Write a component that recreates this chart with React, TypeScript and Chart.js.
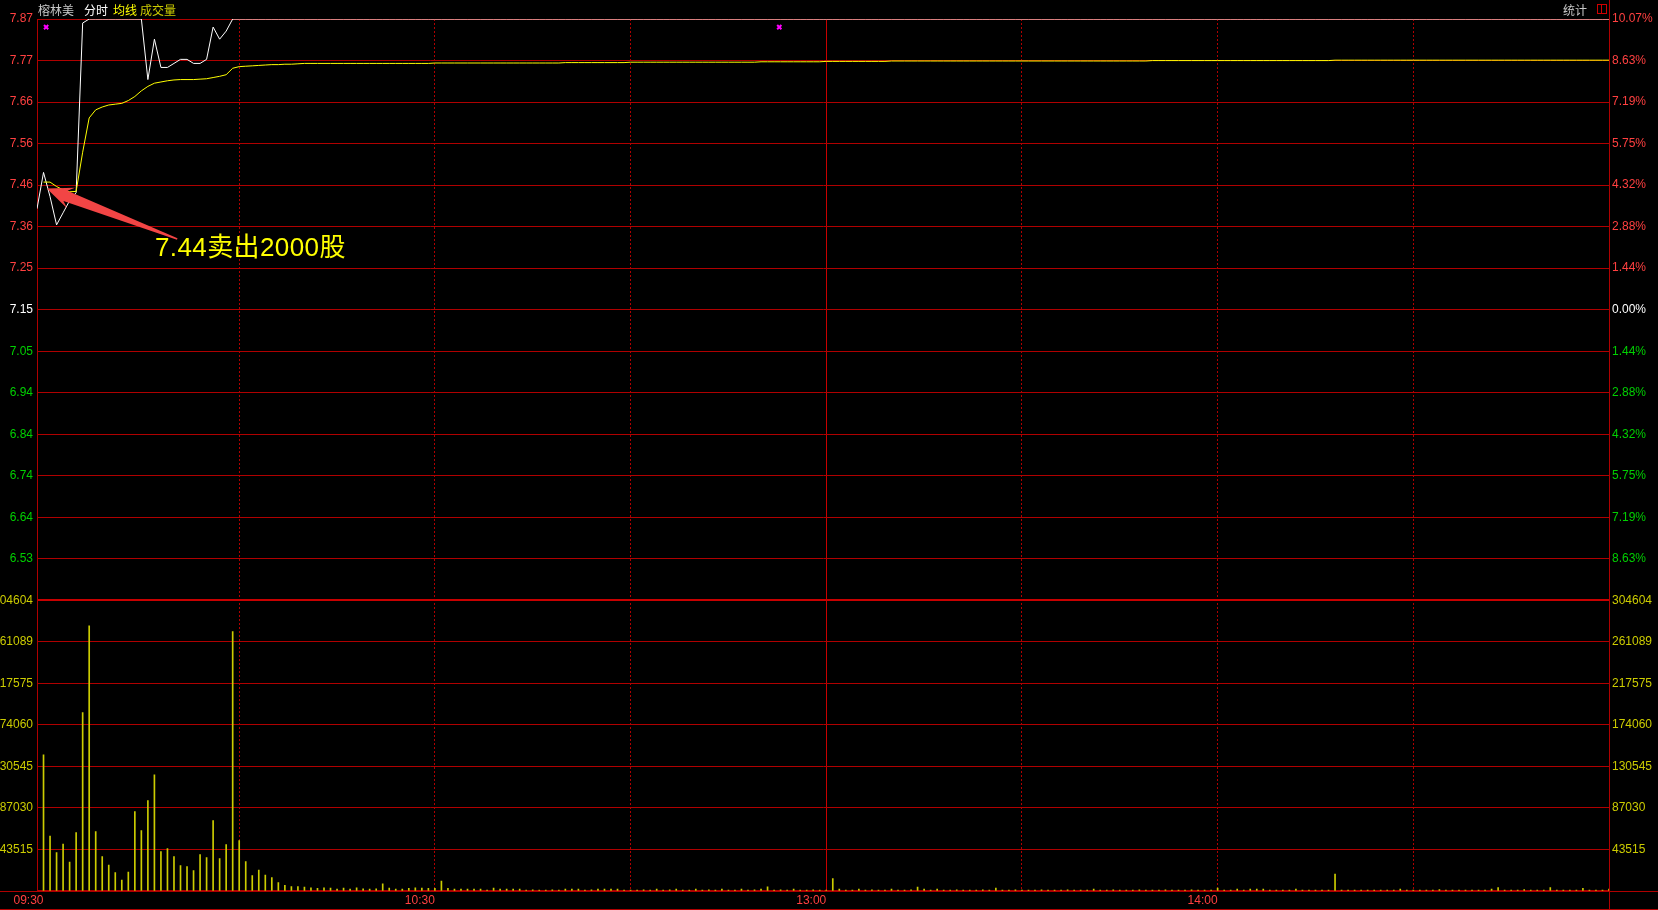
import React, { useEffect, useRef } from 'react';
import { Chart, registerables } from 'chart.js';

Chart.register(...registerables);

// ---------------- data ----------------
const stockName = '榕林美';
const prevClose = 7.15;
const limitRange = 0.72;
const volMax = 304604;

const priceTickLabels = ['7.87', '7.77', '7.66', '7.56', '7.46', '7.36', '7.25', '7.15', '7.05', '6.94', '6.84', '6.74', '6.64', '6.53', ''];
const pctTickLabels = ['10.07%', '8.63%', '7.19%', '5.75%', '4.32%', '2.88%', '1.44%', '0.00%', '1.44%', '2.88%', '4.32%', '5.75%', '7.19%', '8.63%', ''];
const volTickLabels = ['304604', '261089', '217575', '174060', '130545', '87030', '43515', ''];
const timeTickIdx = [0, 60, 120, 180];
const timeTickLabels = ['09:30', '10:30', '13:00', '14:00'];
const gridTimeIdx = [30, 60, 90, 120, 150, 180, 210];
const solidTimeIdx = 120;

const openPrice = 7.40;

const price = [
  7.49, 7.43, 7.36, 7.39, 7.42, 7.44, 7.86, 7.87, 7.87, 7.87, // 0
  7.87, 7.87, 7.87, 7.87, 7.87, 7.87, 7.72, 7.82, 7.75, 7.75, // 10
  7.76, 7.77, 7.77, 7.76, 7.76, 7.77, 7.85, 7.82, 7.84, 7.87, // 20
  7.87, 7.87, 7.87, 7.87, 7.87, 7.87, 7.87, 7.87, 7.87, 7.87, // 30
  7.87, 7.87, 7.87, 7.87, 7.87, 7.87, 7.87, 7.87, 7.87, 7.87, // 40
  7.87, 7.87, 7.87, 7.87, 7.87, 7.87, 7.87, 7.87, 7.87, 7.87, // 50
  7.87, 7.87, 7.87, 7.87, 7.87, 7.87, 7.87, 7.87, 7.87, 7.87, // 60
  7.87, 7.87, 7.87, 7.87, 7.87, 7.87, 7.87, 7.87, 7.87, 7.87, // 70
  7.87, 7.87, 7.87, 7.87, 7.87, 7.87, 7.87, 7.87, 7.87, 7.87, // 80
  7.87, 7.87, 7.87, 7.87, 7.87, 7.87, 7.87, 7.87, 7.87, 7.87, // 90
  7.87, 7.87, 7.87, 7.87, 7.87, 7.87, 7.87, 7.87, 7.87, 7.87, // 100
  7.87, 7.87, 7.87, 7.87, 7.87, 7.87, 7.87, 7.87, 7.87, 7.87, // 110
  7.87, 7.87, 7.87, 7.87, 7.87, 7.87, 7.87, 7.87, 7.87, 7.87, // 120
  7.87, 7.87, 7.87, 7.87, 7.87, 7.87, 7.87, 7.87, 7.87, 7.87, // 130
  7.87, 7.87, 7.87, 7.87, 7.87, 7.87, 7.87, 7.87, 7.87, 7.87, // 140
  7.87, 7.87, 7.87, 7.87, 7.87, 7.87, 7.87, 7.87, 7.87, 7.87, // 150
  7.87, 7.87, 7.87, 7.87, 7.87, 7.87, 7.87, 7.87, 7.87, 7.87, // 160
  7.87, 7.87, 7.87, 7.87, 7.87, 7.87, 7.87, 7.87, 7.87, 7.87, // 170
  7.87, 7.87, 7.87, 7.87, 7.87, 7.87, 7.87, 7.87, 7.87, 7.87, // 180
  7.87, 7.87, 7.87, 7.87, 7.87, 7.87, 7.87, 7.87, 7.87, 7.87, // 190
  7.87, 7.87, 7.87, 7.87, 7.87, 7.87, 7.87, 7.87, 7.87, 7.87, // 200
  7.87, 7.87, 7.87, 7.87, 7.87, 7.87, 7.87, 7.87, 7.87, 7.87, // 210
  7.87, 7.87, 7.87, 7.87, 7.87, 7.87, 7.87, 7.87, 7.87, 7.87, // 220
  7.87, 7.87, 7.87, 7.87, 7.87, 7.87, 7.87, 7.87, 7.87, 7.87, // 230
  7.87, // 240
];

const avgPrice = [
  7.466, 7.466, 7.455, 7.447, 7.442, 7.443, 7.540, 7.625, 7.645, 7.652, // 0
  7.657, 7.659, 7.661, 7.668, 7.678, 7.692, 7.703, 7.711, 7.714, 7.717, // 10
  7.719, 7.720, 7.720, 7.720, 7.721, 7.722, 7.725, 7.728, 7.732, 7.748, // 20
  7.752, 7.753, 7.754, 7.755, 7.756, 7.757, 7.757, 7.758, 7.758, 7.759, // 30
  7.760, 7.760, 7.760, 7.760, 7.760, 7.760, 7.760, 7.760, 7.760, 7.760, // 40
  7.760, 7.760, 7.760, 7.760, 7.760, 7.760, 7.760, 7.760, 7.760, 7.760, // 50
  7.761, 7.761, 7.761, 7.761, 7.761, 7.761, 7.761, 7.761, 7.761, 7.761, // 60
  7.761, 7.761, 7.761, 7.761, 7.761, 7.761, 7.761, 7.761, 7.761, 7.761, // 70
  7.762, 7.762, 7.762, 7.762, 7.762, 7.762, 7.762, 7.762, 7.762, 7.762, // 80
  7.763, 7.763, 7.763, 7.763, 7.763, 7.763, 7.763, 7.763, 7.763, 7.763, // 90
  7.763, 7.763, 7.763, 7.763, 7.763, 7.763, 7.763, 7.763, 7.763, 7.763, // 100
  7.764, 7.764, 7.764, 7.764, 7.764, 7.764, 7.764, 7.764, 7.764, 7.764, // 110
  7.765, 7.765, 7.765, 7.765, 7.765, 7.765, 7.765, 7.765, 7.765, 7.765, // 120
  7.766, 7.766, 7.766, 7.766, 7.766, 7.766, 7.766, 7.766, 7.766, 7.766, // 130
  7.766, 7.766, 7.766, 7.766, 7.766, 7.766, 7.766, 7.766, 7.766, 7.766, // 140
  7.766, 7.766, 7.766, 7.766, 7.766, 7.766, 7.766, 7.766, 7.766, 7.766, // 150
  7.766, 7.766, 7.766, 7.766, 7.766, 7.766, 7.766, 7.766, 7.766, 7.766, // 160
  7.767, 7.767, 7.767, 7.767, 7.767, 7.767, 7.767, 7.767, 7.767, 7.767, // 170
  7.767, 7.767, 7.767, 7.767, 7.767, 7.767, 7.767, 7.767, 7.767, 7.767, // 180
  7.767, 7.767, 7.767, 7.767, 7.767, 7.767, 7.767, 7.767, 7.768, 7.768, // 190
  7.768, 7.768, 7.768, 7.768, 7.768, 7.768, 7.768, 7.768, 7.768, 7.768, // 200
  7.768, 7.768, 7.768, 7.768, 7.768, 7.768, 7.768, 7.768, 7.768, 7.768, // 210
  7.768, 7.768, 7.768, 7.768, 7.768, 7.768, 7.768, 7.768, 7.768, 7.768, // 220
  7.768, 7.768, 7.768, 7.768, 7.768, 7.768, 7.768, 7.768, 7.768, 7.768, // 230
  7.768, // 240
];

const volume = [
  142600, 57670, 40190, 49280, 30400, 61160, 186980, 277850, 62210, 36000, // 0
  27260, 19220, 11530, 19920, 83180, 63260, 94710, 121630, 41240, 44390, // 10
  36000, 26560, 25510, 21320, 38100, 34950, 73740, 33900, 48580, 271910, // 20
  52770, 30760, 16080, 22020, 16780, 13980, 8740, 5940, 4540, 4540, // 30
  4200, 3200, 2900, 3300, 3000, 2100, 3100, 2000, 3300, 2200, // 40
  1900, 2300, 7400, 3000, 2100, 2000, 2900, 3200, 3000, 2800, // 50
  2800, 10500, 2900, 2000, 2100, 1900, 2000, 2100, 1000, 3000, // 60
  2000, 2100, 1900, 2000, 1000, 1100, 900, 1000, 1100, 1000, // 70
  2000, 2100, 1900, 1000, 1100, 2000, 2100, 1900, 2000, 1000, // 80
  1000, 1000, 1100, 1000, 2000, 1000, 1100, 2000, 1000, 1000, // 90
  1900, 1000, 1100, 1000, 2000, 1000, 1000, 1900, 1000, 1100, // 100
  2100, 4300, 1000, 1100, 1000, 1900, 1000, 1000, 1100, 1000, // 110
  900, 12900, 2100, 1000, 1000, 2000, 1000, 1100, 1000, 1000, // 120
  1900, 1000, 1000, 1100, 4200, 2000, 1000, 2100, 1000, 1000, // 130
  1100, 1000, 1000, 1000, 1100, 1000, 3100, 1000, 1000, 1100, // 140
  1000, 1000, 1000, 1100, 1000, 1000, 1000, 1100, 1000, 1000, // 150
  1000, 2000, 1000, 1000, 1100, 1000, 1000, 1000, 1100, 1000, // 160
  1000, 1000, 1100, 1000, 1000, 1000, 1100, 1000, 1000, 1000, // 170
  3100, 1000, 1000, 2100, 1000, 2100, 2100, 2100, 1000, 1000, // 180
  1000, 1000, 2100, 1000, 1000, 1000, 1000, 1000, 17800, 1000, // 190
  1000, 1000, 1000, 1000, 1000, 1000, 1000, 1000, 2100, 1000, // 200
  1000, 1000, 1000, 1000, 1400, 1000, 1000, 1000, 1000, 1000, // 210
  1000, 1000, 2100, 3500, 1000, 1000, 1000, 1400, 1000, 1000, // 220
  1000, 3500, 1000, 1000, 1000, 1000, 2800, 1000, 1000, 1000, // 230
  2100, // 240
];

const markerIdx = [0.4, 112.8];
const markerPrice = 7.85;

const noteText = '7.44卖出2000股';
const arrowTip = { idx: 0.5, price: 7.45 };
const arrowTail = { idx: 20.5, price: 7.325 };

// ---------------- styles ----------------
const GRID_RED = '#b00000';
const SEP_RED = '#c80000';
const TEXT_RED = '#ff4040';
const TEXT_GREEN = '#00d000';
const TEXT_WHITE = '#ffffff';
const VOL_YELLOW = '#cccc00';
const AVG_YELLOW = '#ffff00';

function priceLabelColor(index: number): string {
  if (index < 7) return TEXT_RED;
  if (index === 7) return TEXT_WHITE;
  return TEXT_GREEN;
}

export default function App() {
  const canvasRef = useRef<HTMLCanvasElement | null>(null);

  useEffect(() => {
    const canvas = canvasRef.current;
    if (!canvas) return;
    document.body.style.margin = '0';
    document.body.style.background = '#000';

    const step = limitRange / 7;
    const priceTicks = priceTickLabels.map((_, k) => prevClose + limitRange - k * step);
    const volTicks = volTickLabels.map((_, k) => volMax - (k * volMax) / 7);
    const pMin = prevClose - limitRange;
    const pMax = prevClose + limitRange;
    const xMin = -1;
    const xMax = price.length - 1;

    Chart.defaults.font.family = "'Liberation Sans', Arial, sans-serif";
    Chart.defaults.font.size = 12;

    const arrowPlugin = {
      id: 'noteArrow',
      afterDatasetsDraw(chart: any) {
        const xs = chart.scales.x;
        const ys = chart.scales.yP;
        const tx = xs.getPixelForValue(arrowTip.idx);
        const ty = ys.getPixelForValue(arrowTip.price);
        const ex = xs.getPixelForValue(arrowTail.idx);
        const ey = ys.getPixelForValue(arrowTail.price);
        const dx = ex - tx;
        const dy = ey - ty;
        const len = Math.hypot(dx, dy);
        const ux = dx / len;
        const uy = dy / len;
        const nx = -uy;
        const ny = ux;
        const headLen = 26;
        const headHalf = 11;
        const neck = 20;
        const shaftHalf = 5.5;
        const tailHalf = 0.7;
        const p = (a: number, b: number) => [tx + ux * a + nx * b, ty + uy * a + ny * b];
        const pts = [
          [tx, ty],
          p(headLen, headHalf),
          p(neck, shaftHalf),
          [ex + nx * tailHalf, ey + ny * tailHalf],
          [ex - nx * tailHalf, ey - ny * tailHalf],
          p(neck, -shaftHalf),
          p(headLen, -headHalf),
        ];
        const ctx = chart.ctx;
        ctx.save();
        ctx.beginPath();
        ctx.moveTo(pts[0][0], pts[0][1]);
        for (let i = 1; i < pts.length; i++) ctx.lineTo(pts[i][0], pts[i][1]);
        ctx.closePath();
        ctx.fillStyle = '#f24545';
        ctx.fill();
        ctx.restore();
      },
    };

    const chart = new Chart(canvas, {
      type: 'line',
      data: {
        datasets: [
          {
            type: 'scatter',
            label: 'marks',
            data: markerIdx.map((x) => ({ x, y: markerPrice })),
            xAxisID: 'x',
            yAxisID: 'yP',
            pointStyle: 'crossRot',
            pointRadius: 3,
            borderWidth: 2,
            borderColor: '#ff00ff',
            backgroundColor: '#ff00ff',
            order: 0,
          } as any,
          {
            label: '均线',
            data: avgPrice.map((y, i) => ({ x: i, y })),
            xAxisID: 'x',
            yAxisID: 'yP',
            borderColor: AVG_YELLOW,
            borderWidth: 1,
            pointRadius: 0,
            tension: 0,
            fill: false,
            order: 1,
          },
          {
            label: '分时',
            data: [{ x: -1, y: openPrice }, ...price.map((y, i) => ({ x: i, y }))],
            xAxisID: 'x',
            yAxisID: 'yP',
            borderColor: '#ffffff',
            borderWidth: 1,
            pointRadius: 0,
            tension: 0,
            fill: false,
            order: 2,
          },
          {
            type: 'bar',
            label: '成交量',
            data: volume.map((y, i) => ({ x: i, y })),
            xAxisID: 'x',
            yAxisID: 'yV',
            backgroundColor: VOL_YELLOW,
            borderWidth: 0,
            barThickness: 1,
            order: 3,
          } as any,
        ],
      },
      options: {
        responsive: false,
        animation: false,
        events: [],
        layout: { padding: { top: 19, left: 0, right: 0, bottom: 0 } },
        plugins: { legend: { display: false }, tooltip: { enabled: false }, title: { display: false } },
        scales: {
          x: {
            type: 'linear',
            position: 'bottom',
            min: xMin,
            max: xMax,
            offset: false,
            grid: {
              offset: false,
              color: (ctx: any) => (ctx.tick && ctx.tick.value === solidTimeIdx ? SEP_RED : GRID_RED),
              lineWidth: 1,
              drawTicks: false,
            },
            border: {
              display: false,
              dash: (ctx: any) => (ctx.tick && ctx.tick.value === solidTimeIdx ? [] : [2, 2]),
            },
            ticks: { display: false },
            afterBuildTicks: (s: any) => {
              s.ticks = gridTimeIdx.map((v) => ({ value: v }));
            },
            afterFit: (s: any) => {
              s.height = 0;
            },
          },
          xl: {
            type: 'linear',
            position: 'bottom',
            min: xMin,
            max: xMax,
            offset: false,
            grid: { display: false, drawTicks: false },
            border: { display: false },
            ticks: {
              color: TEXT_RED,
              align: 'end',
              padding: 2,
              autoSkip: false,
              maxRotation: 0,
              callback: (_v: any, i: number) => timeTickLabels[i],
            },
            afterBuildTicks: (s: any) => {
              s.ticks = timeTickIdx.map((v) => ({ value: v }));
            },
            afterFit: (s: any) => {
              s.height = 19;
            },
          },
          // left boxes are laid out in reverse order, so the volume axis is listed first
          yV: {
            type: 'linear',
            position: 'left',
            stack: 'left',
            stackWeight: 1,
            min: 0,
            max: volMax,
            grid: {
              color: (ctx: any) => (ctx.index === 0 ? SEP_RED : GRID_RED),
              lineWidth: (ctx: any) => (ctx.index === 0 ? 2 : 1),
              drawTicks: false,
            },
            border: { display: true, color: GRID_RED, width: 1 },
            ticks: {
              padding: 4,
              autoSkip: false,
              color: VOL_YELLOW,
              callback: (_v: any, i: number) => volTickLabels[i],
            },
            afterBuildTicks: (s: any) => {
              s.ticks = volTicks.map((v) => ({ value: v }));
            },
            afterFit: (s: any) => {
              s.width = 37;
            },
          },
          yP: {
            type: 'linear',
            position: 'left',
            stack: 'left',
            stackWeight: 2,
            min: pMin,
            max: pMax,
            grid: {
              color: (ctx: any) => (ctx.index === priceTickLabels.length - 1 ? SEP_RED : GRID_RED),
              lineWidth: (ctx: any) => (ctx.index === priceTickLabels.length - 1 ? 2 : 1),
              drawTicks: false,
            },
            border: { display: true, color: GRID_RED, width: 1 },
            ticks: {
              padding: 4,
              autoSkip: false,
              color: (ctx: any) => priceLabelColor(ctx.index),
              callback: (_v: any, i: number) => priceTickLabels[i],
            },
            afterBuildTicks: (s: any) => {
              s.ticks = priceTicks.map((v) => ({ value: v }));
            },
            afterFit: (s: any) => {
              s.width = 37;
            },
          },
          yPct: {
            type: 'linear',
            position: 'right',
            stack: 'right',
            stackWeight: 2,
            min: pMin,
            max: pMax,
            grid: { display: false, drawTicks: false },
            border: { display: false },
            ticks: {
              padding: 3,
              autoSkip: false,
              color: (ctx: any) => priceLabelColor(ctx.index),
              callback: (_v: any, i: number) => pctTickLabels[i],
            },
            afterBuildTicks: (s: any) => {
              s.ticks = priceTicks.map((v) => ({ value: v }));
            },
            afterFit: (s: any) => {
              s.width = 49;
            },
          },
          yVR: {
            type: 'linear',
            position: 'right',
            stack: 'right',
            stackWeight: 1,
            min: 0,
            max: volMax,
            grid: { display: false, drawTicks: false },
            border: { display: false },
            ticks: {
              padding: 3,
              autoSkip: false,
              color: VOL_YELLOW,
              callback: (_v: any, i: number) => volTickLabels[i],
            },
            afterBuildTicks: (s: any) => {
              s.ticks = volTicks.map((v) => ({ value: v }));
            },
            afterFit: (s: any) => {
              s.width = 49;
            },
          },
        },
      } as any,
      plugins: [arrowPlugin],
    });

    return () => {
      chart.destroy();
    };
  }, []);

  const headerFont: React.CSSProperties = {
    position: 'absolute',
    top: 3,
    fontFamily: "'Noto Sans CJK SC', sans-serif",
    fontSize: 12,
    lineHeight: '14px',
    whiteSpace: 'nowrap',
  };

  return (
    <div
      style={{
        position: 'fixed',
        left: 0,
        top: 0,
        width: 1658,
        height: 910,
        background: '#000',
        overflow: 'hidden',
      }}
    >
      <canvas ref={canvasRef} width={1658} height={910} style={{ position: 'absolute', left: 0, top: 0, display: 'block' }} />
      <div style={{ position: 'absolute', left: 1609, top: 0, width: 1, height: 910, background: GRID_RED }} />
      <div style={{ position: 'absolute', left: 0, top: 891, width: 1658, height: 1, background: GRID_RED }} />
      <div style={{ position: 'absolute', left: 0, top: 909, width: 1658, height: 1, background: GRID_RED }} />
      <span style={{ ...headerFont, left: 38, color: '#c8c8c8' }}>{stockName}</span>
      <span style={{ ...headerFont, left: 84, color: '#ffffff' }}>分时</span>
      <span style={{ ...headerFont, left: 113, color: AVG_YELLOW }}>均线</span>
      <span style={{ ...headerFont, left: 140, color: VOL_YELLOW }}>成交量</span>
      <span style={{ ...headerFont, left: 1563, color: '#c8c8c8' }}>统计</span>
      <div
        style={{
          position: 'absolute',
          left: 1597,
          top: 4,
          width: 8,
          height: 8,
          border: '1px solid #d00000',
        }}
      >
        <div style={{ position: 'absolute', left: 3, top: 0, width: 1, height: 8, background: '#d00000' }} />
      </div>
      <div
        style={{
          position: 'absolute',
          left: 155,
          top: 234,
          color: '#ffff00',
          fontFamily: "'Liberation Sans', 'Noto Sans CJK SC', sans-serif",
          fontSize: 26,
          lineHeight: '26px',
          letterSpacing: '0.4px',
          whiteSpace: 'nowrap',
        }}
      >
        {noteText}
      </div>
    </div>
  );
}
